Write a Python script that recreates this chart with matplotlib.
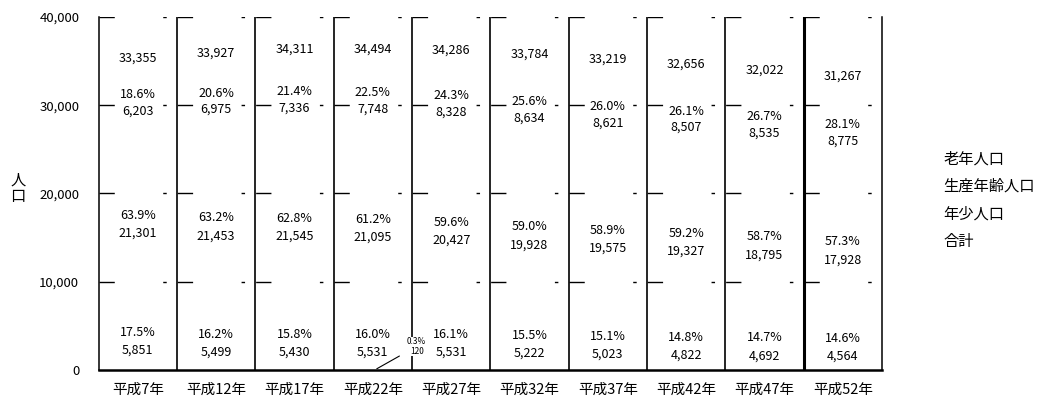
import matplotlib
matplotlib.use("Agg")
import matplotlib.pyplot as plt
from matplotlib.lines import Line2D
from matplotlib.patches import Patch
import numpy as np

plt.rcParams['font.family'] = ['Noto Sans CJK JP', 'DejaVu Sans']

years = ['平成7年', '平成12年', '平成17年', '平成22年', '平成27年',
         '平成32年', '平成37年', '平成42年', '平成47年', '平成52年']
young = [5851, 5499, 5430, 5531, 5531, 5222, 5023, 4822, 4692, 4564]
working = [21301, 21453, 21545, 21095, 20427, 19928, 19575, 19327, 18795, 17928]
aged = [6203, 6975, 7336, 7748, 8328, 8634, 8621, 8507, 8535, 8775]
total = [33355, 33927, 34311, 34494, 34286, 33784, 33219, 32656, 32022, 31267]
young_pct = [17.5, 16.2, 15.8, 16.0, 16.1, 15.5, 15.1, 14.8, 14.7, 14.6]
working_pct = [63.9, 63.2, 62.8, 61.2, 59.6, 59.0, 58.9, 59.2, 58.7, 57.3]
aged_pct = [18.6, 20.6, 21.4, 22.5, 24.3, 25.6, 26.0, 26.1, 26.7, 28.1]
unknown_h22 = 120
unknown_h22_pct = 0.3

fig = plt.figure(figsize=(10.5, 4.01), dpi=100)
ax = fig.add_axes([0.094, 0.077, 0.746, 0.881])

x = np.arange(len(years))
young_a = np.array(young)
working_a = np.array(working)
aged_a = np.array(aged)

ax.bar(x, young_a, width=1.0, color='white', edgecolor='none', zorder=2)
ax.bar(x, working_a, width=1.0, bottom=young_a, color='white',
       edgecolor='none', zorder=2)
ax.bar(x, aged_a, width=1.0, bottom=young_a + working_a, color='white',
       edgecolor='none', zorder=2)
ax.plot(x, total, linestyle='none', marker=None, color='white', zorder=1)

lab_fs = 9
box = dict(facecolor='white', edgecolor='none', pad=0.5)
for i in range(len(years)):
    ax.text(x[i], young[i] / 2 + 300, f'{young_pct[i]:.1f}%\n{young[i]:,}',
            ha='center', va='center', fontsize=lab_fs, linespacing=1.5, zorder=5)
    ax.text(x[i], young[i] + working[i] / 2, f'{working_pct[i]:.1f}%\n{working[i]:,}',
            ha='center', va='center', fontsize=lab_fs, linespacing=1.5, zorder=5)
    ax.text(x[i], young[i] + working[i] + aged[i] / 2, f'{aged_pct[i]:.1f}%\n{aged[i]:,}',
            ha='center', va='center', fontsize=lab_fs, linespacing=1.35, zorder=5,
            bbox=box)
    ax.annotate(f'{total[i]:,}', (x[i], young[i] + working[i] + aged[i]),
                xytext=(0, 8), textcoords='offset points',
                ha='center', va='bottom', fontsize=lab_fs, zorder=5)

# small callout for the age-unknown share in 平成22年
ax.annotate(f'{unknown_h22_pct}%\n{unknown_h22}', xy=(3.05, 150), xytext=(3.56, 2700),
            fontsize=6, ha='center', va='center', linespacing=1.1,
            bbox=dict(facecolor='white', edgecolor='none', pad=0.3),
            arrowprops=dict(arrowstyle='-', color='black', lw=0.8,
                            shrinkA=6, shrinkB=0), zorder=6)

ax.set_xlim(-0.5, len(years) - 0.5)
ax.set_ylim(0, 40000)
ax.set_yticks([0, 10000, 20000, 30000, 40000])
ax.set_yticklabels(['0', '10,000', '20,000', '30,000', '40,000'], fontsize=9.5)
ax.set_xticks(x)
ax.set_xticklabels(years, fontsize=10.5)
ax.tick_params(axis='both', length=0)
ax.tick_params(axis='y', pad=14)
ax.tick_params(axis='x', pad=9)

# horizontal gridlines: one dash pattern period per category
cat_pt = 0.746 * 10.5 * 72 / len(years)
grid_dash = (0, (11, cat_pt - 21.5, 2.5, 8))
for yv in [10000, 20000, 30000, 40000]:
    ax.axhline(yv, color='black', lw=1.0, linestyle=grid_dash,
               dash_capstyle='butt', zorder=3)

# category separators
for xv in np.arange(0.5, len(years) - 0.5, 1.0):
    ax.axvline(xv, color='black', lw=1.2 if xv != 8.5 else 2.2, zorder=3)

ax.spines['top'].set_visible(False)
ax.spines['left'].set_linewidth(1.1)
ax.spines['right'].set_linewidth(1.1)
ax.spines['bottom'].set_linewidth(1.8)
for s in ['left', 'right', 'bottom']:
    ax.spines[s].set_zorder(4)

fig.text(0.017, 0.53, '人\n口', fontsize=11, ha='center', va='center', linespacing=1.0)

handles = [Patch(facecolor='white', edgecolor='none'),
           Patch(facecolor='white', edgecolor='none'),
           Patch(facecolor='white', edgecolor='none'),
           Line2D([], [], color='white')]
fig.legend(handles, ['老年人口', '生産年齢人口', '年少人口', '合計'],
           loc='upper left', bbox_to_anchor=(0.862, 0.66), frameon=False,
           fontsize=11, handlelength=1.2, handletextpad=0.4, labelspacing=0.7)

fig.savefig('out.png', dpi=100, facecolor='white')
